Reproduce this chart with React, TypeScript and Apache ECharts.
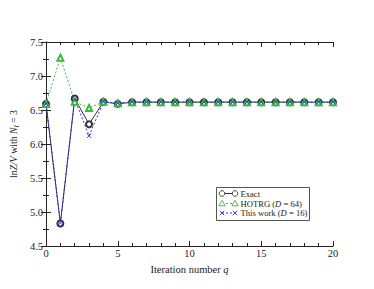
import React, { useEffect, useRef } from "react";
import * as echarts from "echarts";

const iterations = [0, 1, 2, 3, 4, 5, 6, 7, 8, 9, 10, 11, 12, 13, 14, 15, 16, 17, 18, 19, 20];
const exactValues = [6.59, 4.83, 6.67, 6.29, 6.62, 6.59, 6.615, 6.615, 6.615, 6.615, 6.615, 6.615, 6.615, 6.615, 6.615, 6.615, 6.615, 6.615, 6.615, 6.615, 6.615];
const hotrgValues = [6.59, 7.27, 6.62, 6.53, 6.62, 6.60, 6.615, 6.615, 6.615, 6.615, 6.615, 6.615, 6.615, 6.615, 6.615, 6.615, 6.615, 6.615, 6.615, 6.615, 6.615];
const thisWorkValues = [6.59, 4.84, 6.66, 6.12, 6.62, 6.60, 6.615, 6.615, 6.615, 6.615, 6.615, 6.615, 6.615, 6.615, 6.615, 6.615, 6.615, 6.615, 6.615, 6.615, 6.615];
const legendNames = ["Exact", "HOTRG ({i|D} = 64)", "This work ({i|D} = 16)"];

const FONT = "'Liberation Serif', 'DejaVu Serif', serif";
const BLACK = "#333333";
const GREEN = "#3cb83c";
const BLUE = "#2b2bf0";

const pairs = (vals: number[]) => iterations.map((q, i) => [q, vals[i]]);

export default function App() {
  const ref = useRef<HTMLDivElement>(null);
  useEffect(() => {
    if (!ref.current) return;
    const chart = echarts.init(ref.current, undefined, { renderer: "svg" });
    const axisCommon = {
      axisLine: { show: true, lineStyle: { color: "#222", width: 1 } },
      axisTick: { show: true, inside: true, length: 5, lineStyle: { color: "#222" } },
      minorTick: { show: true, length: 3, lineStyle: { color: "#222" } },
      splitLine: { show: false },
    };
    const labelStyle = { fontFamily: FONT, fontSize: 10.5, color: "#222" };
    const nameStyle = { fontFamily: FONT, fontSize: 9.8, color: "#222" };
    const gx = 43, gy = 42, gw = 290, gh = 204;
    const lx = 216, ly = 187;
    const rowY = [193.5, 203.5, 213];
    const tri = (cx: number, cy: number) => [[cx, cy - 3.2], [cx - 3.2, cy + 2.3], [cx + 3.2, cy + 2.3]];
    const legendGraphic: any[] = [
      { type: "rect", shape: { x: lx + 0.5, y: ly + 0.5, width: 93, height: 33 }, style: { fill: "#fff", stroke: "#555", lineWidth: 1 }, z: 100 },
      { type: "line", shape: { x1: 222, y1: rowY[0], x2: 235, y2: rowY[0] }, style: { stroke: BLACK, lineWidth: 1 }, z: 101 },
      { type: "circle", shape: { cx: 222, cy: rowY[0], r: 2.8 }, style: { fill: "#fff", stroke: BLACK, lineWidth: 0.9 }, z: 102 },
      { type: "circle", shape: { cx: 235, cy: rowY[0], r: 2.8 }, style: { fill: "#fff", stroke: BLACK, lineWidth: 0.9 }, z: 102 },
      { type: "line", shape: { x1: 222, y1: rowY[1], x2: 235, y2: rowY[1] }, style: { stroke: GREEN, lineWidth: 1, lineDash: [2, 2] }, z: 101 },
      { type: "polygon", shape: { points: tri(222, rowY[1]) }, style: { fill: "#fff", stroke: GREEN, lineWidth: 0.9 }, z: 102 },
      { type: "polygon", shape: { points: tri(235, rowY[1]) }, style: { fill: "#fff", stroke: GREEN, lineWidth: 0.9 }, z: 102 },
      { type: "line", shape: { x1: 222, y1: rowY[2], x2: 235, y2: rowY[2] }, style: { stroke: BLUE, lineWidth: 1, lineDash: [2, 2] }, z: 101 },
      ...[222, 235].flatMap((cx) => [
        { type: "line", shape: { x1: cx - 2.2, y1: rowY[2] - 2.2, x2: cx + 2.2, y2: rowY[2] + 2.2 }, style: { stroke: BLUE, lineWidth: 0.9 }, z: 102 },
        { type: "line", shape: { x1: cx + 2.2, y1: rowY[2] - 2.2, x2: cx - 2.2, y2: rowY[2] + 2.2 }, style: { stroke: BLUE, lineWidth: 0.9 }, z: 102 },
      ]),
      ...legendNames.map((t, i) => ({
        type: "text",
        x: 240.5,
        y: rowY[i],
        z: 103,
        style: {
          text: t,
          fontFamily: FONT,
          fontSize: 8.6,
          fill: "#222",
          verticalAlign: "middle",
          align: "left",
          rich: { i: { fontFamily: FONT, fontSize: 8.6, fontStyle: "italic", fill: "#222" } },
        },
      })),
    ];
    chart.setOption({
      animation: false,
      backgroundColor: "#fff",
      grid: { left: gx, top: gy, width: gw, height: gh, containLabel: false },
      xAxis: [
        {
          type: "value", min: 0, max: 20, interval: 5,
          ...axisCommon,
          minorTick: { ...axisCommon.minorTick, splitNumber: 5 },
          axisLabel: { ...labelStyle, margin: 2 },
          name: "Iteration number {i|q}",
          nameLocation: "middle",
          nameGap: 12,
          nameTextStyle: { ...labelStyle, verticalAlign: "top", rich: { i: { ...labelStyle, fontStyle: "italic" } } },
        },
        {
          type: "value", min: 0, max: 20, interval: 5, position: "top",
          ...axisCommon,
          minorTick: { ...axisCommon.minorTick, splitNumber: 5 },
          axisLabel: { show: false },
        },
      ],
      yAxis: [
        {
          type: "value", min: 4.5, max: 7.5, interval: 0.5,
          ...axisCommon,
          minorTick: { ...axisCommon.minorTick, splitNumber: 2 },
          axisLabel: { ...labelStyle, margin: 3, formatter: (v: number) => v.toFixed(1) },
          name: "ln{i|Z/V} with {i|N}{sub|f} = 3",
          nameLocation: "middle",
          nameGap: 21,
          nameRotate: 90,
          nameTextStyle: {
            ...nameStyle,
            rich: {
              i: { ...nameStyle, fontStyle: "italic" },
              sub: { ...nameStyle, fontSize: 7, fontStyle: "italic", verticalAlign: "bottom", padding: [5, 0, 0, 0] },
            },
          },
        },
        {
          type: "value", min: 4.5, max: 7.5, interval: 0.5, position: "right",
          ...axisCommon,
          minorTick: { ...axisCommon.minorTick, splitNumber: 2 },
          axisLabel: { show: false },
        },
      ],
      series: [
        {
          name: "Exact", type: "line", data: pairs(exactValues),
          symbol: "emptyCircle", symbolSize: 6,
          lineStyle: { color: BLACK, width: 1 },
          itemStyle: { color: BLACK, borderColor: BLACK, borderWidth: 0.9 },
        },
        {
          name: "HOTRG", type: "line", data: pairs(hotrgValues),
          symbol: "emptyTriangle", symbolSize: 6,
          lineStyle: { color: GREEN, width: 1, type: [2, 2] },
          itemStyle: { color: GREEN, borderColor: GREEN, borderWidth: 0.9 },
        },
        {
          name: "This work", type: "line", data: pairs(thisWorkValues),
          symbol: "path://M0,0L10,10M10,0L0,10", symbolSize: 4.5,
          lineStyle: { color: BLUE, width: 1, type: [2, 2] },
          itemStyle: { color: "none", borderColor: BLUE, borderWidth: 0.9 },
        },
      ],
      graphic: legendGraphic,
    });
    return () => chart.dispose();
  }, []);
  return <div ref={ref} style={{ position: "fixed", left: 0, top: 0, width: 374, height: 289 }} />;
}
